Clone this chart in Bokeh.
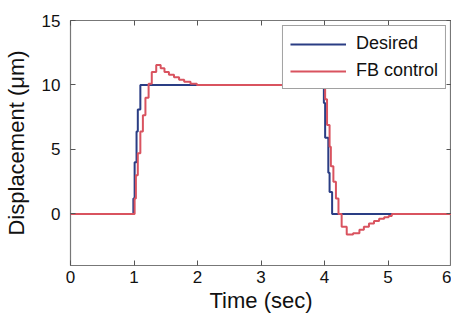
from bokeh.plotting import figure
from bokeh.models import Range1d, FixedTicker, LinearAxis, Legend, LegendItem
from bokeh.embed import file_html
from bokeh.resources import INLINE

# ---- data ----
desired_t = [0, 0.99, 1.01, 1.04, 1.06, 1.10, 3.99, 4.01, 4.06, 4.08, 4.12, 6]
desired_y = [0, 1.2, 4.0, 6.4, 8.1, 10.0, 8.6, 5.9, 3.2, 1.7, 0.0, 0.0]

fb_t = [0, 1.01, 1.03, 1.06, 1.10, 1.14, 1.18, 1.23, 1.28, 1.35, 1.42, 1.48, 1.55,
        1.63, 1.71, 1.79, 1.89, 1.99, 4.01, 4.04, 4.08, 4.10, 4.14, 4.18, 4.22,
        4.27, 4.35, 4.45, 4.55, 4.62, 4.70, 4.78, 4.86, 4.94, 5.01, 5.06, 6]
fb_y = [0, 1.2, 3.0, 4.7, 6.4, 7.65, 9.0, 10.1, 11.0, 11.55, 11.3, 11.0, 10.8,
        10.6, 10.4, 10.25, 10.1, 10.0, 8.9, 6.9, 5.2, 3.7, 2.5, 1.2, 0.0,
        -1.0, -1.6, -1.5, -1.23, -1.0, -0.74, -0.55, -0.37, -0.25, -0.17, 0.0, 0.0]

x_ticks = [0, 1, 2, 3, 4, 5, 6]
y_ticks = [0, 5, 10, 15]

FONT = "Liberation Sans"
BLUE = "#2a3d84"
RED = "#d9535f"

p = figure(width=451, height=315, x_range=Range1d(0, 6), y_range=Range1d(-4, 15),
           output_backend="svg", toolbar_location=None,
           min_border_left=62, min_border_right=0, min_border_top=20, min_border_bottom=40)
p.xgrid.visible = False
p.ygrid.visible = False
p.outline_line_color = "#777777"
p.outline_line_width = 1.2
p.background_fill_color = "white"
p.border_fill_color = "white"

r1 = p.step(desired_t, desired_y, mode="after", line_color=BLUE, line_width=2)
r2 = p.step(fb_t, fb_y, mode="after", line_color=RED, line_width=2)

for ax in (p.xaxis[0], p.yaxis[0]):
    ax.major_tick_in = 5
    ax.major_tick_out = 0
    ax.minor_tick_line_color = None
    ax.axis_line_color = None
    ax.major_tick_line_color = "#555555"
    ax.major_label_text_font = FONT
    ax.major_label_text_font_size = "17px"
    ax.major_label_text_color = "#111111"
    ax.axis_label_text_font = FONT
    ax.axis_label_text_font_size = "22px"
    ax.axis_label_text_font_style = "normal"
    ax.axis_label_text_color = "#111111"

p.xaxis[0].ticker = FixedTicker(ticks=x_ticks)
p.yaxis[0].ticker = FixedTicker(ticks=y_ticks)
p.xaxis[0].axis_label = "Time (sec)"
p.yaxis[0].axis_label = "Displacement (μm)"
p.xaxis[0].major_label_standoff = 5
p.yaxis[0].major_label_standoff = 10
p.xaxis[0].axis_label_standoff = 2
p.yaxis[0].axis_label_standoff = 10

top = LinearAxis(ticker=FixedTicker(ticks=x_ticks),
                 major_label_overrides={t: "" for t in x_ticks},
                 major_label_standoff=0, major_tick_in=5, major_tick_out=0,
                 minor_tick_line_color=None, axis_line_color=None,
                 major_tick_line_color="#555555")
right = LinearAxis(ticker=FixedTicker(ticks=y_ticks),
                   major_label_overrides={t: "" for t in y_ticks},
                   major_label_standoff=0, major_tick_in=5, major_tick_out=0,
                   minor_tick_line_color=None, axis_line_color=None,
                   major_tick_line_color="#555555")
p.add_layout(top, "above")
p.add_layout(right, "right")

legend = Legend(items=[LegendItem(label="Desired", renderers=[r1]),
                       LegendItem(label="FB control", renderers=[r2])],
                location="top_right")
legend.label_text_font = FONT
legend.label_text_font_size = "18px"
legend.label_text_color = "#111111"
legend.glyph_width = 56
legend.label_standoff = 10
legend.spacing = 6
legend.padding = 7
legend.margin = 5
legend.border_line_color = "#444444"
legend.border_line_width = 1
legend.background_fill_alpha = 1
p.add_layout(legend)

open("out.html", "w").write(file_html(p, INLINE))
